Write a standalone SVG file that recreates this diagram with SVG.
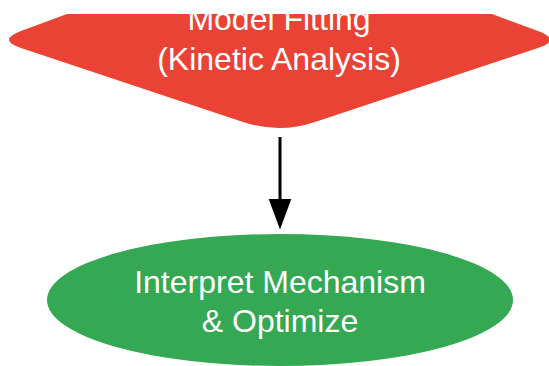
<svg xmlns="http://www.w3.org/2000/svg" width="549" height="366" viewBox="0 0 549 366">
  <style>
    .lbl { font-family: "Liberation Sans", Arial, sans-serif; font-size: 32px; fill: #ffffff; text-anchor: middle; }
    .edge { stroke: #000000; stroke-width: 3; fill: none; }
  </style>
  <defs>
    <marker id="arrow" markerUnits="userSpaceOnUse" markerWidth="32" markerHeight="24" refX="0.5" refY="12" orient="auto" viewBox="0 0 32 24">
      <polygon points="0,0.5 31,12 0,23.5" fill="#000000"/>
    </marker>
  </defs>
  <rect width="549" height="366" fill="#ffffff"/>
  <g id="node-model-fitting">
    <path d="M 67 14 L 492 14 L 538 31.1 Q 562 40 538 48 L 315 122 Q 279 134 243 122 L 21 48 Q -3 40 21 31.1 Z" fill="#EA4335"/>
    <text class="lbl" x="279" y="30">Model Fitting</text>
    <text class="lbl" x="279" y="70">(Kinetic Analysis)</text>
  </g>
  <g id="node-interpret">
    <ellipse cx="280" cy="300" rx="233" ry="66" fill="#34A853"/>
    <text class="lbl" x="280" y="293">Interpret Mechanism</text>
    <text class="lbl" x="280" y="332">&amp; Optimize</text>
  </g>
  <g id="connectors">
    <line class="edge" x1="280" y1="137" x2="280" y2="199" marker-end="url(#arrow)"/>
  </g>
</svg>
